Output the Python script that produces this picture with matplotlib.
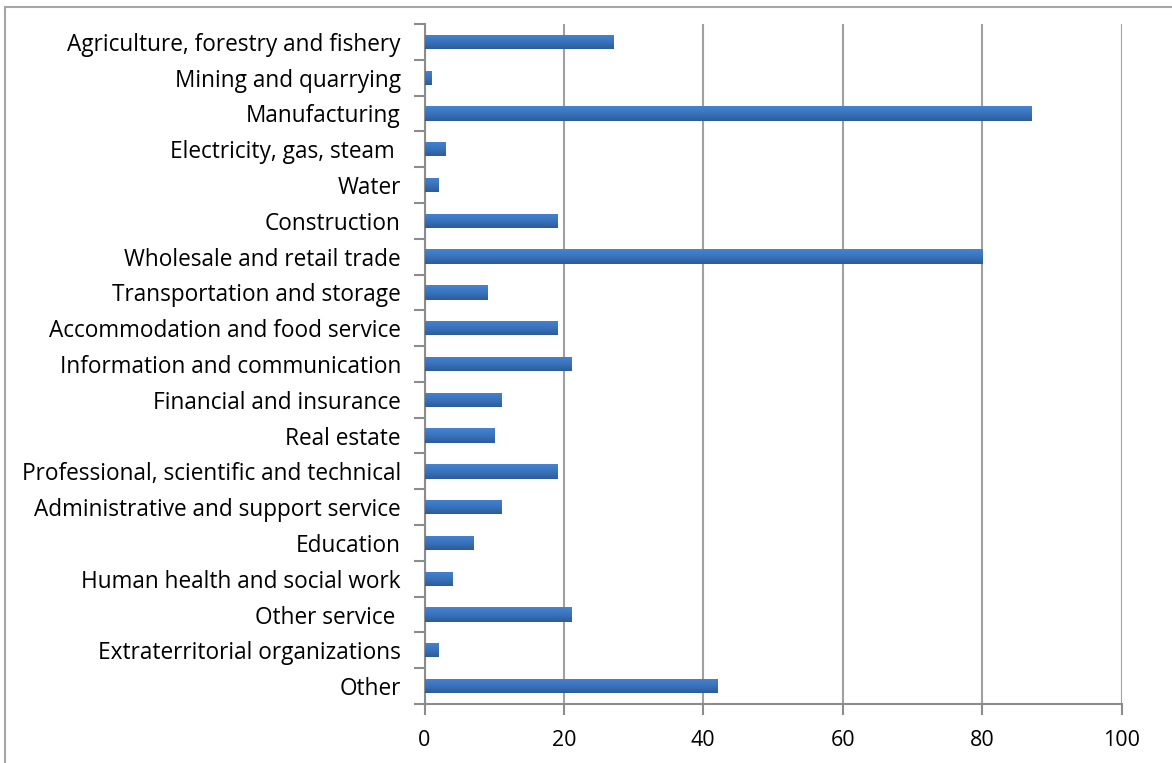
import numpy as np
import matplotlib
matplotlib.use("Agg")
import matplotlib.pyplot as plt
from matplotlib.colors import LinearSegmentedColormap
from matplotlib.patches import Rectangle

# Sectors (top to bottom) and their counts
sectors = [
    "Agriculture, forestry and fishery",
    "Mining and quarrying",
    "Manufacturing",
    "Electricity, gas, steam ",
    "Water",
    "Construction",
    "Wholesale and retail trade",
    "Transportation and storage",
    "Accommodation and food service",
    "Information and communication",
    "Financial and insurance",
    "Real estate",
    "Professional, scientific and technical",
    "Administrative and support service",
    "Education",
    "Human health and social work",
    "Other service ",
    "Extraterritorial organizations",
    "Other",
]
counts = [27, 1, 87, 3, 2, 19, 80, 9, 19, 21, 11, 10, 19, 11, 7, 4, 21, 2, 42]
x_ticks = [0, 20, 40, 60, 80, 100]

plt.rcParams["font.family"] = ["Open Sans", "DejaVu Sans"]

W, H = 1172, 763
fig = plt.figure(figsize=(W / 100, H / 100), dpi=100)

# light grey frame around the chart area (right and bottom edges run off the canvas)
fig.patches.append(Rectangle((5 / W, -0.5), 1.2, 1.5 - 6.5 / H, transform=fig.transFigure,
                             fill=False, edgecolor="#a6a6a6", linewidth=1.5, zorder=0))

ax = fig.add_axes([424.5 / W, (H - 704) / H, (1121.5 - 424.5) / W, (704 - 24) / H])

n = len(sectors)
y = np.arange(n)
bar_h = 0.40
grad = LinearSegmentedColormap.from_list("bar", ["#4484d2", "#3a73bd", "#2d5b98"])

bars = ax.barh(y, counts, height=bar_h, color="#3a70b8", edgecolor="none", zorder=3)
gradient = np.linspace(0, 1, 64).reshape(-1, 1)
for b in bars:
    x0, y0 = b.get_x(), b.get_y()
    w, h = b.get_width(), b.get_height()
    im = ax.imshow(gradient, cmap=grad, aspect="auto",
                   extent=[x0, x0 + w, y0 + h, y0], origin="upper",
                   zorder=4, interpolation="bilinear")
    im.set_clip_path(b)

ax.set_xlim(0, 100)
ax.set_ylim(n - 0.5, -0.5)
ax.set_xticks(x_ticks)
ax.set_xticklabels([str(v) for v in x_ticks], fontsize=15.5)

ax.set_yticks(y)
ax.set_yticklabels(sectors, fontsize=16.3)
ax.tick_params(axis="y", which="major", length=0, pad=17)
# category separators as minor ticks
ax.set_yticks(np.arange(-0.5, n + 0.5, 1), minor=True)
ax.tick_params(axis="y", which="minor", length=8, width=1.5, color="#8c8c8c")
ax.tick_params(axis="x", length=8, width=1.5, color="#8c8c8c", pad=11)

ax.xaxis.grid(True, color="#a0a0a0", linewidth=1.5, zorder=0)
ax.set_axisbelow(True)
for s in ["top", "right"]:
    ax.spines[s].set_visible(False)
for s in ["left", "bottom"]:
    ax.spines[s].set_color("#8c8c8c")
    ax.spines[s].set_linewidth(1.5)

fig.savefig("out.png", dpi=100)
